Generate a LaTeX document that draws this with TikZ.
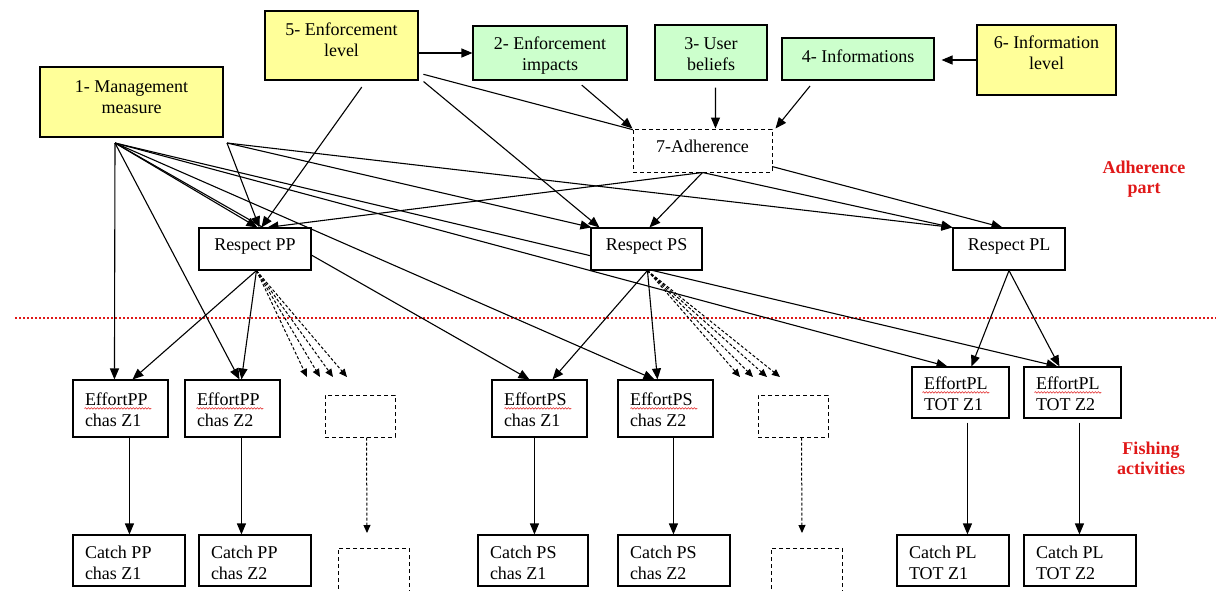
\documentclass[tikz,border=0pt]{standalone}
\usepackage{fontspec}
\setmainfont{Liberation Serif}
\usetikzlibrary{arrows.meta,decorations.pathmorphing}
\definecolor{ylw}{HTML}{FFFF99}
\definecolor{grn}{HTML}{CCFFCC}
\definecolor{rd}{HTML}{E01818}
\pgfdeclarelayer{edges}
\pgfsetlayers{edges,main}
\newcommand\cbx[4]{\parbox[c][#2pt][t]{#1pt}{\centering\vspace*{#3pt}\rule{0pt}{13pt}#4\par}}
\newcommand\lbx[4]{\parbox[c][#2pt][t]{#1pt}{\leftskip=12pt\vspace*{#3pt}\rule{0pt}{13pt}#4\par}}
\tikzset{
  every node/.style={font=\fontsize{18}{21}\selectfont},
  bx/.style={draw, fill=white, inner sep=0pt, line width=1.1pt},
  ybx/.style={bx, fill=ylw},
  gbx/.style={bx, fill=grn},
  dbx/.style={bx, line width=1pt, dash pattern=on 4pt off 3pt},
  ar/.style={-{Triangle[length=11pt,width=9pt]}, line width=1.1pt},
  dar/.style={-{Triangle[length=8pt,width=7pt]}, line width=1pt, dash pattern=on 3pt off 2pt},
  redlbl/.style={text=rd, font=\fontsize{18}{20}\selectfont\bfseries, align=center, inner sep=0pt},
  squig/.style={draw=rd, line width=0.5pt, decorate, decoration={snake, amplitude=0.8pt, segment length=3pt}}
}
\begin{document}
\begin{tikzpicture}[x=1pt, y=-1pt]
\useasboundingbox (0,0) rectangle (1216,590);

% top row
\node[ybx] (mm) at (131.5,102) {\cbx{183}{70}{12}{1- Management\\measure}};
\node[ybx] (el) at (341.5,45.5) {\cbx{153}{69}{11}{5- Enforcement\\level}};
\node[gbx] (ei) at (550,53) {\cbx{154}{54}{10}{2- Enforcement\\impacts}};
\node[gbx] (ub) at (711,52.5) {\cbx{112}{55}{11}{3- User\\beliefs}};
\node[gbx] (inf) at (858,59) {\cbx{152}{42}{11}{4- Informations}};
\node[ybx] (il) at (1046.5,60) {\cbx{139}{70}{10}{6- Information\\level}};
\node[dbx] (adh) at (702.5,150.5) {\cbx{139}{43}{10}{7-Adherence}};

% respect
\node[bx] (rpp) at (255,249) {\cbx{112}{42}{9}{Respect PP}};
\node[bx] (rps) at (646.5,249) {\cbx{111}{42}{9}{Respect PS}};
\node[bx] (rpl) at (1009,249) {\cbx{112}{42}{9}{Respect PL}};

% efforts
\node[bx] (epp1) at (120.5,408.5) {\lbx{95}{57}{12}{EffortPP\\chas Z1}};
\node[bx] (epp2) at (232.5,408.5) {\lbx{95}{57}{12}{EffortPP\\chas Z2}};
\node[dbx] (d1) at (360,416) {\parbox[c][42pt][t]{70pt}{\mbox{}}};
\node[bx] (eps1) at (539.5,408.5) {\lbx{95}{57}{12}{EffortPS\\chas Z1}};
\node[bx] (eps2) at (665.5,408.5) {\lbx{95}{57}{12}{EffortPS\\chas Z2}};
\node[dbx] (d2) at (793,416) {\parbox[c][42pt][t]{70pt}{\mbox{}}};
\node[bx] (epl1) at (960.5,392.5) {\lbx{97}{51}{9}{EffortPL\\TOT Z1}};
\node[bx] (epl2) at (1072.5,392.5) {\lbx{97}{51}{9}{EffortPL\\TOT Z2}};

% catches
\node[bx] (cpp1) at (129,560.5) {\lbx{112}{51}{10}{Catch PP\\chas Z1}};
\node[bx] (cpp2) at (255,560.5) {\lbx{112}{51}{10}{Catch PP\\chas Z2}};
\node[dbx] (dl1) at (373.5,574) {\parbox[c][52pt][t]{71pt}{\mbox{}}};
\node[bx] (cps1) at (533,560.5) {\lbx{110}{51}{10}{Catch PS\\chas Z1}};
\node[bx] (cps2) at (674,560.5) {\lbx{112}{51}{10}{Catch PS\\chas Z2}};
\node[dbx] (dl2) at (806.5,574) {\parbox[c][52pt][t]{71pt}{\mbox{}}};
\node[bx] (cpl1) at (953,560.5) {\lbx{112}{51}{10}{Catch PL\\TOT Z1}};
\node[bx] (cpl2) at (1080,560.5) {\lbx{112}{51}{10}{Catch PL\\TOT Z2}};

% red labels
\node[redlbl] (lab1) at (1144,179) {Adherence\\part};
\node[redlbl] (lab2) at (1151,458) {Fishing\\activities};

% spell-check squiggles
\draw[squig] ([xshift=12pt,yshift=-29pt]epp1.north west) -- ([xshift=79pt,yshift=-29pt]epp1.north west);
\draw[squig] ([xshift=12pt,yshift=-29pt]epp2.north west) -- ([xshift=79pt,yshift=-29pt]epp2.north west);
\draw[squig] ([xshift=13pt,yshift=-29pt]eps1.north west) -- ([xshift=80pt,yshift=-29pt]eps1.north west);
\draw[squig] ([xshift=13pt,yshift=-29pt]eps2.north west) -- ([xshift=80pt,yshift=-29pt]eps2.north west);
\draw[squig] ([xshift=11pt,yshift=-26pt]epl1.north west) -- ([xshift=78pt,yshift=-26pt]epl1.north west);
\draw[squig] ([xshift=11pt,yshift=-26pt]epl2.north west) -- ([xshift=78pt,yshift=-26pt]epl2.north west);

\begin{pgfonlayer}{edges}
\coordinate (m1) at (115,143);
\coordinate (m2) at (227,143);
\coordinate (pd1) at (307,377);
\coordinate (pd2) at (320,377);
\coordinate (pd3) at (333,377);
\coordinate (pd4) at (347,377);
\coordinate (sd1) at (740,377);
\coordinate (sd2) at (753,377);
\coordinate (sd3) at (767,377);
\coordinate (sd4) at (780,377);
\coordinate (dc1) at (367,533);
\coordinate (dc2) at (802,533);

% divider
\draw[rd, line width=1.6pt, dash pattern=on 1.6pt off 2.4pt] (15,318) -- (1216,318);

% management measure
\draw[ar] (m1) -- ([xshift=42pt]epp1.north west);
\draw[ar] (m1) -- ([xshift=55pt]epp2.north west);
\draw[ar] (m1) -- ([xshift=59pt]rpp.north west);
\draw[ar] (m1) -- ([xshift=38pt]eps1.north west);
\draw[ar] (m1) -- ([xshift=37pt]eps2.north west);
\draw[ar] (m1) -- ([xshift=36pt]epl1.north west);
\draw[ar] (m1) -- ([xshift=34pt]epl2.north west);
\draw[ar] (m2) -- ([xshift=61pt]rpp.north west);
\draw[ar] (m2) -- ([xshift=1pt]rps.north west);
\draw[ar] (m2) -- (rpl.north west);

% enforcement level
\draw[ar, shorten <=8pt] ([xshift=102pt]el.south west) -- ([xshift=63pt]rpp.north west);
\draw[ar, shorten <=5pt] ([yshift=-27.5pt]el.east) -- ([xshift=50pt]rpl.north west);
\draw[ar] ([xshift=5pt,yshift=-1pt]el.south east) -- ([xshift=9pt]rps.north west);
\draw[ar] (el.east |- ei.west) -- (ei.west);

% information level
\draw[ar, shorten >=7pt] (il.west) -- (il.west -| inf.east);

% to adherence
\draw[ar, shorten <=7pt] ([xshift=104pt]ei.south west) -- (adh.north west);
\draw[ar, shorten <=7pt] ([xshift=61pt]ub.south west) -- ([xshift=83pt]adh.north west);
\draw[ar, shorten <=7pt] ([xshift=33pt]inf.south west) -- ([xshift=3pt]adh.north east);

% from adherence
\draw[ar] (adh.south) -- ([xshift=69pt]rpp.north west);
\draw[ar] (adh.south) -- ([xshift=59pt]rps.north west);
\draw[ar] (adh.south) -- (rpl.north west);

% respect PP
\draw[ar] ([xshift=58pt]rpp.south west) -- ([xshift=60pt]epp1.north west);
\draw[ar] ([xshift=58pt]rpp.south west) -- ([xshift=57pt]epp2.north west);
\foreach \c in {pd1,pd2,pd3,pd4} \draw[dar] ([xshift=58pt]rpp.south west) -- (\c);

% respect PS
\draw[ar] ([xshift=57pt]rps.south west) -- ([xshift=61pt]eps1.north west);
\draw[ar] ([xshift=57pt]rps.south west) -- ([xshift=40pt]eps2.north west);
\foreach \c in {sd1,sd2,sd3,sd4} \draw[dar] ([xshift=57pt]rps.south west) -- (\c);

% respect PL
\draw[ar] (rpl.south) -- ([xshift=60pt]epl1.north west);
\draw[ar] (rpl.south) -- ([xshift=36pt]epl2.north west);

% effort -> catch
\draw[ar] ([xshift=57pt]epp1.south west) -- ([xshift=57pt]cpp1.north west);
\draw[ar] ([xshift=57pt]epp2.south west) -- ([xshift=43pt]cpp2.north west);
\draw[ar] ([xshift=43pt]eps1.south west) -- ([xshift=57pt]cps1.north west);
\draw[ar] ([xshift=56pt]eps2.south west) -- ([xshift=56pt]cps2.north west);
\draw[ar, shorten <=4pt] ([xshift=56pt]epl1.south west) -- ([xshift=71pt]cpl1.north west);
\draw[ar, shorten <=4pt] ([xshift=56pt]epl2.south west) -- ([xshift=56pt]cpl2.north west);
\draw[dar] ([xshift=42pt]d1.south west) -- (dc1);
\draw[dar] ([xshift=44pt]d2.south west) -- (dc2);
\end{pgfonlayer}
\end{tikzpicture}
\end{document}
